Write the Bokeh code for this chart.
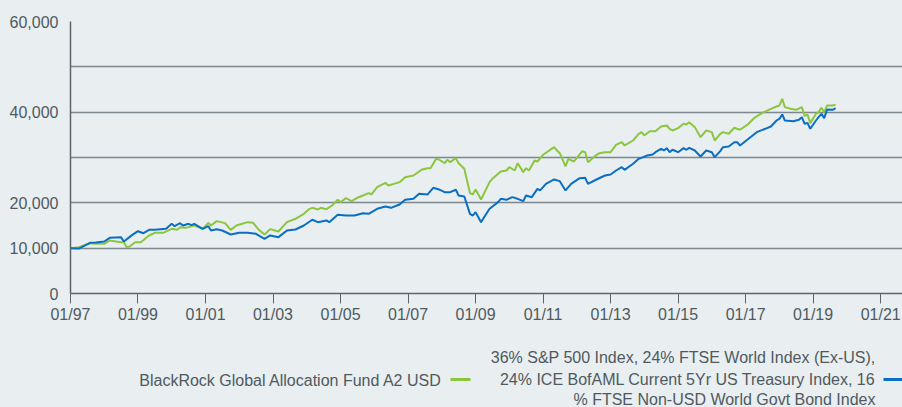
import pandas as pd
from bokeh.plotting import figure
from bokeh.layouts import column
from bokeh.models import Range1d, FixedTicker, NumeralTickFormatter, DatetimeTickFormatter
from bokeh.core.properties import value
from bokeh.embed import file_html
from bokeh.resources import INLINE

# ---------------- data ----------------
fund_name = "BlackRock Global Allocation Fund A2 USD"
bench_label_lines = [
    "36% S&P 500 Index, 24% FTSE World Index (Ex-US),",
    "24% ICE BofAML Current 5Yr US Treasury Index, 16",
    "% FTSE Non-USD World Govt Bond Index",
]

fund_months = [
    "1997-01", "1997-04", "1997-08", "1997-10", "1998-01", "1998-03", "1998-07", "1998-08",
    "1998-09", "1998-10", "1998-12", "1999-02", "1999-05", "1999-07", "1999-10", "2000-01",
    "2000-03", "2000-04", "2000-06", "2000-09", "2000-12", "2001-02", "2001-03", "2001-05",
    "2001-08", "2001-10", "2001-12", "2002-02", "2002-04", "2002-06", "2002-08", "2002-10",
    "2002-12", "2003-03", "2003-06", "2003-09", "2003-12", "2004-02", "2004-03", "2004-05",
    "2004-06", "2004-08", "2004-10", "2004-12", "2005-01", "2005-03", "2005-05", "2005-07",
    "2005-09", "2005-11", "2005-12", "2006-02", "2006-05", "2006-06", "2006-08", "2006-10",
    "2006-12", "2007-03", "2007-06", "2007-08", "2007-09", "2007-11", "2007-12", "2008-02",
    "2008-03", "2008-04", "2008-06", "2008-07", "2008-09", "2008-11", "2008-12", "2009-01",
    "2009-03", "2009-06", "2009-07", "2009-10", "2009-12", "2010-01", "2010-03", "2010-04",
    "2010-06", "2010-07", "2010-08", "2010-10", "2010-11", "2011-01", "2011-05", "2011-06",
    "2011-07", "2011-09", "2011-10", "2011-12", "2012-03", "2012-04", "2012-05", "2012-07",
    "2012-09", "2012-11", "2013-01", "2013-03", "2013-05", "2013-06", "2013-09", "2013-11",
    "2013-12", "2014-01", "2014-03", "2014-05", "2014-07", "2014-09", "2014-10", "2014-11",
    "2015-01", "2015-03", "2015-04", "2015-05", "2015-07", "2015-09", "2015-11", "2016-01",
    "2016-02", "2016-04", "2016-05", "2016-07", "2016-09", "2016-10", "2016-11", "2017-02",
    "2017-04", "2017-07", "2017-10", "2017-12", "2018-01", "2018-02", "2018-03", "2018-05",
    "2018-07", "2018-09", "2018-10", "2018-11", "2018-12", "2019-02", "2019-03", "2019-04",
    "2019-05", "2019-06", "2019-08", "2019-09",
]
fund_values = [
    10000, 10220, 11100, 10960, 10960, 11690, 11320, 11320,
    10220, 10370, 11320, 11320, 12800, 13380, 13380, 14260,
    14040, 14630, 14480, 14990, 14260, 15590, 14990, 15960,
    15520, 14040, 14990, 15370, 15740, 15590, 14040, 13010,
    14200, 13670, 15740, 16480, 17570, 18680, 18900, 18530,
    18900, 18600, 19410, 20670, 20150, 21040, 20380, 21110,
    21620, 22140, 21850, 23450, 24410, 23820, 24190, 24560,
    25660, 26030, 27350, 27650, 27650, 29710, 29560, 28750,
    29490, 28970, 29860, 28750, 27500, 22140, 21850, 22950,
    20740, 24560, 25290, 26910, 27130, 27870, 27130, 28750,
    26770, 27650, 27130, 29340, 29120, 30600, 32280, 31550,
    30950, 28020, 29710, 29120, 31390, 31170, 28970, 30070,
    30950, 31170, 31170, 32800, 33380, 32650, 33750, 35230,
    35600, 34860, 35810, 35810, 36840, 37060, 36330, 35960,
    36480, 37430, 37280, 37800, 36700, 34490, 35960, 35600,
    33750, 35230, 35600, 35230, 36550, 36330, 36110, 37430,
    38670, 39860, 40740, 41250, 41480, 42950, 41110, 40740,
    40520, 41110, 39130, 39490, 37580, 39640, 40000, 40960,
    40000, 41470, 41470, 41620,
]

bench_months = [
    "1997-01", "1997-04", "1997-08", "1997-10", "1998-01", "1998-03", "1998-07", "1998-08",
    "1998-11", "1999-01", "1999-03", "1999-05", "1999-07", "1999-11", "2000-01", "2000-02",
    "2000-04", "2000-05", "2000-07", "2000-08", "2000-09", "2000-12", "2001-02", "2001-03",
    "2001-05", "2001-07", "2001-10", "2002-01", "2002-04", "2002-07", "2002-10", "2002-12",
    "2003-03", "2003-06", "2003-09", "2003-12", "2004-03", "2004-05", "2004-08", "2004-09",
    "2004-12", "2005-03", "2005-06", "2005-09", "2005-11", "2006-02", "2006-05", "2006-07",
    "2006-10", "2006-12", "2007-03", "2007-05", "2007-08", "2007-10", "2007-12", "2008-02",
    "2008-04", "2008-06", "2008-07", "2008-09", "2008-11", "2008-12", "2009-01", "2009-03",
    "2009-06", "2009-09", "2009-10", "2009-12", "2010-02", "2010-04", "2010-06", "2010-07",
    "2010-09", "2010-11", "2010-12", "2011-02", "2011-05", "2011-07", "2011-09", "2011-11",
    "2012-02", "2012-04", "2012-05", "2012-08", "2012-11", "2013-01", "2013-03", "2013-05",
    "2013-06", "2013-09", "2013-11", "2013-12", "2014-02", "2014-04", "2014-05", "2014-07",
    "2014-08", "2014-09", "2014-10", "2014-11", "2015-01", "2015-03", "2015-04", "2015-05",
    "2015-07", "2015-09", "2015-11", "2016-01", "2016-02", "2016-04", "2016-05", "2016-07",
    "2016-09", "2016-10", "2016-11", "2017-02", "2017-05", "2017-08", "2017-10", "2017-12",
    "2018-01", "2018-02", "2018-03", "2018-06", "2018-08", "2018-09", "2018-10", "2018-11",
    "2018-12", "2019-02", "2019-03", "2019-04", "2019-05", "2019-06", "2019-08", "2019-09",
]
bench_values = [
    10000, 9900, 11180, 11250, 11470, 12280, 12430, 11470,
    12940, 13740, 13300, 14040, 14040, 14260, 15370, 14850,
    15500, 14990, 15370, 15080, 15370, 14260, 14850, 13900,
    14190, 13900, 13010, 13380, 13380, 13160, 12060, 12800,
    12430, 13900, 14120, 15000, 16260, 15740, 16110, 15740,
    17360, 17200, 17200, 17720, 17570, 18680, 19200, 18900,
    19630, 20670, 20890, 21990, 21850, 23320, 22950, 22360,
    22360, 22880, 21620, 21400, 17570, 17200, 17940, 15740,
    18680, 20150, 20890, 20670, 21250, 20890, 20370, 21620,
    21250, 23090, 22730, 24190, 25150, 24780, 22730, 24190,
    25440, 25510, 24190, 25150, 26030, 26250, 27130, 27870,
    27280, 28610, 29710, 29930, 30440, 30660, 31170, 31910,
    31550, 32060, 31170, 31700, 31170, 32060, 31700, 32130,
    31550, 30220, 31550, 31170, 30070, 31400, 32280, 32430,
    33380, 33380, 32650, 34120, 35590, 36330, 36840, 38160,
    38530, 39490, 38160, 38010, 38310, 38900, 37430, 37650,
    36330, 38160, 38900, 39640, 38680, 40590, 40520, 40880,
]

x_tick_dates = ["1997-01-01", "1999-01-01", "2001-01-01", "2003-01-01", "2005-01-01",
                "2007-01-01", "2009-01-01", "2011-01-01", "2013-01-01", "2015-01-01",
                "2017-01-01", "2019-01-01", "2021-01-01"]
y_label_ticks = [0, 10000, 20000, 40000, 60000]
y_grid_ticks = [10000, 20000, 30000, 40000, 50000, 60000]

# ---------------- styles ----------------
BG = "#e9eef1"
TEXT = "#4f5a60"
GRID = "#7d888e"
AXIS = "#5b666b"
GREEN = "#8cc63f"
BLUE = "#0a6fc2"
FONT = "Liberation Sans"

fund_x = pd.to_datetime(fund_months, format="%Y-%m")
bench_x = pd.to_datetime(bench_months, format="%Y-%m")
x_ticks = [pd.Timestamp(d).timestamp() * 1000 for d in x_tick_dates]

p = figure(width=902, height=328, x_axis_type="datetime",
           x_range=Range1d(pd.Timestamp("1997-01-01"), pd.Timestamp("2021-08-25")),
           y_range=Range1d(0, 60000),
           output_backend="svg", toolbar_location=None,
           min_border_left=70, min_border_right=0, min_border_top=21, min_border_bottom=35)
p.background_fill_color = BG
p.border_fill_color = BG
p.outline_line_color = None

p.line(fund_x, fund_values, line_color=GREEN, line_width=2)
p.line(bench_x, bench_values, line_color=BLUE, line_width=2)

p.xgrid.visible = False
p.ygrid.ticker = FixedTicker(ticks=y_grid_ticks)
p.ygrid.grid_line_color = GRID
p.ygrid.grid_line_width = 1.5

p.yaxis.ticker = FixedTicker(ticks=y_label_ticks)
p.yaxis.formatter = NumeralTickFormatter(format="0,0")
p.yaxis.major_tick_out = 0
p.yaxis.major_tick_in = 0
p.yaxis.minor_tick_out = 0
p.yaxis.minor_tick_in = 0
p.yaxis.major_label_standoff = 12

p.xaxis.ticker = FixedTicker(ticks=x_ticks)
p.xaxis.formatter = DatetimeTickFormatter(years="%m/%y", months="%m/%y", days="%m/%y")
p.xaxis.major_tick_out = 10
p.xaxis.major_tick_in = 0
p.xaxis.minor_tick_out = 0
p.xaxis.minor_tick_in = 0
p.xaxis.major_label_standoff = 2

for ax in (p.xaxis[0], p.yaxis[0]):
    ax.axis_line_color = AXIS
    ax.axis_line_width = 1.5
    ax.major_tick_line_color = AXIS
    ax.major_tick_line_width = 1
    ax.major_label_text_color = TEXT
    ax.major_label_text_font = FONT
    ax.major_label_text_font_size = "16px"

# ---------------- legend strip ----------------
# the column aligns this strip's frame with the chart frame (page x 70..902),
# so the x range is expressed directly in page pixels
LEG_H = 79
leg = figure(width=902, height=LEG_H, x_range=Range1d(70, 902), y_range=Range1d(LEG_H, 0),
             output_backend="svg", toolbar_location=None, min_border=0,
             x_axis_location=None, y_axis_location=None)
leg.background_fill_color = BG
leg.border_fill_color = BG
leg.outline_line_color = None
leg.xgrid.visible = False
leg.ygrid.visible = False

leg.text(x=[442], y=[52], text=[fund_name], text_align="right", text_baseline="middle",
         text_font=value(FONT), text_font_size="16px", text_color=TEXT)
leg.segment(x0=[450], y0=[51], x1=[470], y1=[51], line_color=GREEN, line_width=3)

leg.text(x=[875, 875, 875], y=[29, 51, 71], text=bench_label_lines, text_align="right",
         text_baseline="middle", text_font=value(FONT), text_font_size="16px", text_color=TEXT)
leg.segment(x0=[883], y0=[51], x1=[904], y1=[51], line_color=BLUE, line_width=3)

layout = column(p, leg, spacing=0)
layout.background = BG

html = file_html(layout, INLINE)
html = html.replace("<body", '<body style="background-color:%s"' % BG, 1)
open("out.html", "w").write(html)
